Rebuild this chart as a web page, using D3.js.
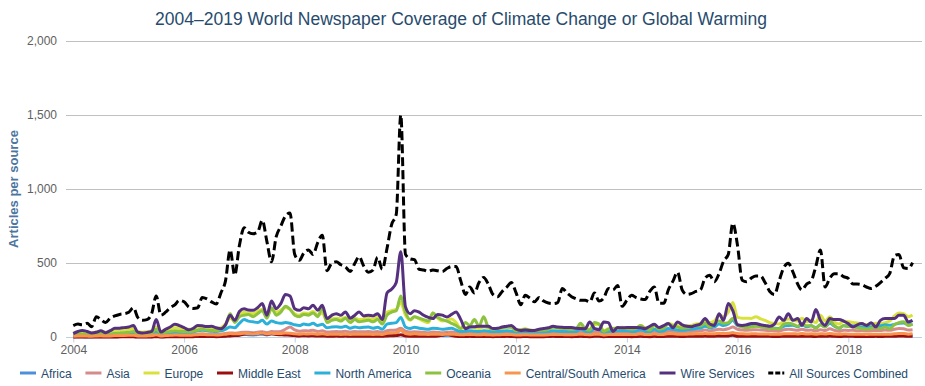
<!DOCTYPE html>
<html>
<head>
<meta charset="utf-8">
<script src="https://cdn.jsdelivr.net/npm/d3@7"></script>
<style>
  body { margin: 0; background: #fff; }
  svg { font-family: "Liberation Sans", Arial, sans-serif; }
</style>
</head>
<body>
<div id="chart"></div>
<script>
// monthly values, Jan 2004 .. Mar 2019
var africa = [
  3,4,4,3,3,4,5,4,4,5,5,6,
  6,6,4,4,4,5,8,4,5,6,6,6,
  6,6,7,8,8,8,8,7,8,10,14,12,
  16,20,18,17,19,22,17,24,20,22,26,24,
  18,16,18,17,19,16,18,13,14,15,14,15,
  12,14,13,14,14,13,15,12,22,25,28,55,
  18,14,15,14,13,12,14,13,12,13,15,12,
  9,10,10,10,9,10,9,8,9,10,11,10,
  8,8,9,8,8,8,8,9,11,10,10,9,
  9,9,12,10,9,12,12,8,9,10,10,10,
  10,9,10,12,10,9,12,10,10,13,12,11,
  10,11,12,13,13,15,13,14,18,16,18,30,
  16,14,13,14,14,13,13,12,12,11,14,15,
  15,13,16,13,14,12,15,13,17,13,11,13,
  12,12,11,11,11,11,12,11,12,12,14,16,
  15,13,14];
var asia = [
  10,12,12,10,10,12,14,12,13,15,16,16,
  18,18,14,12,14,15,22,14,16,18,20,20,
  20,18,20,22,24,22,22,20,22,26,30,28,
  32,35,34,32,35,38,32,40,38,40,55,70,
  50,42,45,44,48,40,45,36,38,40,38,42,
  36,40,38,38,40,36,40,34,45,48,50,62,
  42,36,38,36,34,32,36,34,32,34,36,32,
  28,30,32,30,28,30,29,27,28,30,32,30,
  26,27,29,27,26,27,26,28,32,30,30,29,
  28,30,36,30,28,38,36,26,30,31,32,33,
  32,30,32,38,32,30,38,31,33,42,40,38,
  36,38,40,42,44,50,45,48,55,52,58,70,
  55,50,48,50,52,50,48,45,44,42,52,55,
  52,48,55,48,50,44,52,46,58,48,42,48,
  47,48,45,46,44,45,47,46,50,48,55,60,
  58,50,52];
var europe = [
  30,35,40,35,30,38,42,35,40,48,50,52,
  55,60,40,35,38,45,70,40,55,60,65,62,
  58,55,60,70,72,68,65,60,65,90,130,110,
  150,170,165,160,175,190,140,190,170,185,200,190,
  160,150,165,160,175,150,165,110,125,130,125,135,
  110,130,120,125,130,120,135,110,170,180,190,235,
  150,115,140,125,110,100,165,130,110,115,125,100,
  60,65,70,65,60,70,65,55,58,62,70,65,
  50,52,58,50,48,50,48,52,65,62,60,58,
  55,58,80,60,55,85,88,45,58,62,65,68,
  65,60,62,80,65,60,85,62,65,95,85,78,
  72,78,80,90,95,115,100,110,150,140,170,235,
  135,130,130,128,140,125,115,100,95,90,110,125,
  120,110,130,105,115,100,150,110,140,105,90,110,
  105,100,98,92,85,90,95,92,100,110,145,165,
  160,140,150];
var middleEast = [
  2,2,3,2,2,3,3,2,3,3,4,4,
  4,4,3,3,3,3,5,3,4,4,5,5,
  5,5,5,6,6,6,6,5,6,8,10,12,
  15,22,25,24,26,28,22,25,20,18,16,15,
  12,10,11,10,11,9,10,8,8,9,8,9,
  7,8,8,8,8,7,8,7,10,11,12,18,
  9,8,8,8,7,7,8,10,14,22,12,8,
  6,6,7,6,6,6,6,5,6,6,7,6,
  5,5,6,5,5,5,5,6,7,6,6,6,
  5,6,7,6,5,7,7,5,6,6,6,6,
  6,5,6,7,6,5,7,6,6,8,7,7,
  6,7,7,8,8,9,8,8,10,9,10,14,
  8,8,7,8,8,7,7,7,6,6,8,8,
  8,7,8,7,7,6,8,7,9,7,6,7,
  7,7,6,6,6,6,7,6,7,7,8,9,
  9,7,8];
var northAmerica = [
  15,18,20,17,15,20,22,18,20,25,25,28,
  30,32,22,20,22,25,40,22,28,32,35,34,
  35,32,36,45,48,45,42,40,45,55,70,65,
  95,120,110,105,100,115,90,110,100,95,100,95,
  85,80,90,85,95,80,88,65,70,72,68,75,
  62,70,65,68,70,62,68,55,90,95,100,135,
  70,60,68,62,58,55,62,60,55,58,62,50,
  40,42,45,42,40,45,42,38,40,42,45,42,
  35,38,40,36,35,36,35,38,45,42,40,40,
  38,40,55,42,38,58,55,32,40,42,45,45,
  45,40,42,52,42,38,55,40,45,60,55,50,
  48,52,55,60,62,75,65,70,90,80,90,115,
  80,75,72,75,78,72,70,65,62,60,75,80,
  82,72,85,72,78,65,85,72,95,75,62,78,
  75,78,70,72,70,72,75,78,85,82,88,95,
  98,85,90];
var oceania = [
  15,20,22,18,15,20,25,20,22,28,30,32,
  35,40,25,22,25,30,55,28,35,40,45,42,
  40,38,42,50,55,50,48,45,55,80,160,100,
  140,150,155,140,160,180,130,200,150,170,210,190,
  150,140,155,150,165,140,200,100,115,120,110,130,
  100,120,105,110,115,105,120,90,150,170,180,280,
  170,120,140,130,120,110,165,135,120,110,95,80,
  60,100,80,120,75,140,70,55,60,65,70,68,
  45,50,55,48,45,48,50,55,70,65,60,58,
  55,60,95,58,50,100,90,40,55,60,60,62,
  60,55,60,80,60,50,80,55,62,90,75,70,
  62,65,70,80,78,95,70,90,110,95,100,130,
  85,70,65,70,75,72,68,62,60,58,90,95,
  90,75,95,78,80,62,85,70,110,80,62,80,
  75,72,65,60,55,62,68,60,70,58,85,100,
  105,80,90];
var centralSouthAmerica = [
  8,9,10,9,8,10,11,9,10,12,12,13,
  14,15,10,9,10,12,18,10,13,14,16,15,
  15,14,16,18,20,18,18,16,18,22,26,24,
  25,28,26,25,27,30,24,28,26,27,30,28,
  24,22,24,23,25,22,24,20,21,22,20,22,
  20,22,21,22,22,20,22,19,28,30,32,48,
  26,22,24,22,21,20,22,21,20,21,22,20,
  18,19,20,19,18,19,18,17,18,19,20,19,
  17,17,18,17,17,17,17,18,20,19,19,18,
  18,19,22,19,18,22,22,17,19,20,20,20,
  20,19,20,23,20,19,23,20,20,25,24,22,
  21,22,23,24,24,26,24,25,28,26,28,32,
  26,24,23,24,24,23,23,22,21,21,24,25,
  25,23,26,23,24,22,25,23,27,23,21,23,
  22,22,21,21,20,21,22,21,22,22,24,26,
  26,22,24];
var wireServices = [
  25,40,47,40,30,35,45,32,45,61,62,66,
  70,81,35,29,33,40,120,36,55,70,88,80,
  66,51,60,81,78,73,75,65,59,85,150,115,
  175,194,185,183,200,228,150,245,194,228,290,280,
  194,183,200,194,217,183,217,127,149,160,149,172,
  130,150,172,145,150,145,160,120,300,325,370,578,
  206,160,180,170,149,135,127,155,150,138,155,172,
  120,59,70,72,75,75,75,60,62,70,75,81,
  55,47,50,47,47,55,60,65,75,70,68,66,
  66,62,60,59,104,60,52,104,100,40,66,65,
  66,66,66,65,59,75,88,66,80,93,65,104,
  85,75,72,81,90,127,90,81,160,115,228,180,
  85,81,85,93,93,85,81,75,90,138,115,160,
  115,127,81,127,104,188,115,81,127,120,120,110,
  93,70,85,93,81,99,70,115,127,127,127,149,
  149,104,115];
var allSources = [
  80,90,85,95,72,140,120,100,130,145,155,160,
  170,200,135,115,120,160,280,150,170,200,220,250,
  240,205,195,200,270,260,240,225,300,380,590,420,
  620,740,710,700,710,790,650,510,680,750,820,840,
  560,520,570,590,560,640,690,450,500,510,490,475,
  445,500,545,480,440,455,540,460,600,760,830,1500,
  560,530,525,460,455,445,455,450,445,465,478,478,
  380,290,340,300,370,405,360,290,275,310,340,370,
  300,220,285,265,240,270,245,232,228,235,330,300,
  275,260,250,250,240,300,245,265,330,320,350,210,
  250,285,270,260,255,310,340,230,230,320,380,440,
  320,290,295,310,320,400,420,375,430,515,560,770,
  620,385,375,400,415,415,370,310,290,380,470,500,
  440,360,320,360,380,480,590,340,400,430,430,410,
  398,360,360,355,340,330,345,370,398,430,550,560,
  470,465,505];

var seriesNames = ["Africa", "Asia", "Europe", "Middle East", "North America", "Oceania", "Central/South America", "Wire Services", "All Sources Combined"];
var seriesColors = ["#4e8fd9", "#d68b8b", "#d9e23c", "#9c0d0d", "#2bb0da", "#8cc23f", "#f7944e", "#55307f", "#000000"];
var seriesValues = [africa, asia, europe, middleEast, northAmerica, oceania, centralSouthAmerica, wireServices, allSources];
var yTicks = [0, 500, 1000, 1500, 2000];
var xTickYears = [2004, 2006, 2008, 2010, 2012, 2014, 2016, 2018];

var width = 925, height = 386;
var plotLeft = 66, plotRight = 922;

var svg = d3.select('#chart').append('svg')
  .attr('width', width)
  .attr('height', height);

var x = d3.scaleUtc()
  .domain([new Date(Date.UTC(2004, 0, 1)), new Date(Date.UTC(2018, 0, 1))])
  .range([73.3, 848.3]);

var y = d3.scaleLinear()
  .domain([0, 2000])
  .range([337.4, 41]);

var start = new Date(Date.UTC(2004, 0, 1));
function dateAt(i) { return d3.utcMonth.offset(start, i); }

// title
svg.append('text')
  .attr('x', 461)
  .attr('y', 25)
  .attr('text-anchor', 'middle')
  .style('font-size', '17.5px')
  .style('fill', '#274b6d')
  .text('2004\u20132019 World Newspaper Coverage of Climate Change or Global Warming');

// grid
svg.append('g').selectAll('line')
  .data(yTicks.filter(function(d) { return d > 0; }))
  .enter().append('line')
  .attr('x1', plotLeft).attr('x2', plotRight)
  .attr('y1', function(d) { return Math.round(y(d)) + 0.5; })
  .attr('y2', function(d) { return Math.round(y(d)) + 0.5; })
  .style('stroke', '#c0c0c0')
  .style('stroke-width', 1);

// y labels
svg.append('g').selectAll('text')
  .data(yTicks)
  .enter().append('text')
  .attr('x', 57)
  .attr('y', function(d) { return y(d) + 4; })
  .attr('text-anchor', 'end')
  .style('font-size', '12px')
  .style('fill', '#606060')
  .text(d3.format(','));

svg.append('text')
  .attr('transform', 'translate(18,189) rotate(-90)')
  .attr('text-anchor', 'middle')
  .style('font-size', '13px')
  .style('font-weight', 'bold')
  .style('fill', '#4d759e')
  .text('Articles per source');

// x axis
var xAxis = d3.axisBottom(x)
  .tickValues(xTickYears.map(function(yr) { return new Date(Date.UTC(yr, 0, 1)); }))
  .tickFormat(d3.utcFormat('%Y'))
  .tickSize(5)
  .tickSizeOuter(0);

var gx = svg.append('g')
  .attr('transform', 'translate(0,' + (Math.round(y(0)) + 0.5) + ')')
  .call(xAxis);
gx.select('.domain').remove();
gx.insert('line', ':first-child')
  .attr('x1', plotLeft).attr('x2', plotRight)
  .style('stroke', '#c0d0e0');
gx.selectAll('.tick line').style('stroke', '#c0d0e0');
gx.selectAll('.tick text')
  .attr('y', 8)
  .style('font-size', '12px')
  .style('font-family', '"Liberation Sans", Arial, sans-serif')
  .style('fill', '#606060');

// lines
var line = d3.line()
  .x(function(d, i) { return x(dateAt(i)); })
  .y(function(d) { return y(d); })
  .curve(d3.curveMonotoneX);

var lines = svg.append('g');
seriesValues.forEach(function(vals, k) {
  var last = k === seriesValues.length - 1;
  lines.append('path')
    .datum(vals)
    .attr('d', line)
    .style('fill', 'none')
    .style('stroke', seriesColors[k])
    .style('stroke-width', 3)
    .style('stroke-linejoin', 'round')
    .style('stroke-dasharray', last ? '9,4' : null);
});

// legend, spread between x=20 and x=908 like the original
var legend = svg.append('g').attr('transform', 'translate(0,373)');
var items = legend.selectAll('g')
  .data(seriesNames)
  .enter().append('g');

items.append('line')
  .attr('x1', 0).attr('x2', 16)
  .attr('y1', 0).attr('y2', 0)
  .style('stroke', function(d, i) { return seriesColors[i]; })
  .style('stroke-width', 3)
  .style('stroke-dasharray', function(d, i) { return i === seriesNames.length - 1 ? '5,2' : null; });

items.append('text')
  .attr('x', 21)
  .attr('y', 4.5)
  .style('font-size', '12px')
  .style('fill', '#274b6d')
  .text(function(d) { return d; });

var widths = [];
items.each(function() {
  widths.push(21 + d3.select(this).select('text').node().getComputedTextLength());
});
var legLeft = 20, legRight = 908;
var gap = (legRight - legLeft - d3.sum(widths)) / (widths.length - 1);
var cx = legLeft;
items.attr('transform', function(d, i) {
  var t = 'translate(' + cx + ',0)';
  cx += widths[i] + gap;
  return t;
});
</script>
</body>
</html>
